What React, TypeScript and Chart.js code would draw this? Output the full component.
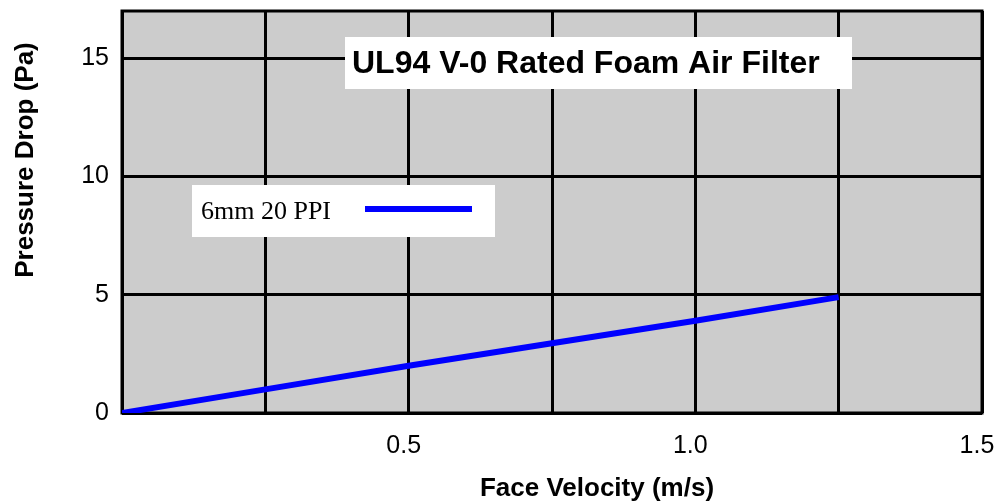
import React, { useEffect, useRef } from "react";
import { Chart, registerables } from "chart.js";

Chart.register(...registerables);

const chartTitle = "UL94 V-0 Rated Foam Air Filter";
const seriesLabel = "6mm 20 PPI";
const xAxisTitle = "Face Velocity (m/s)";
const yAxisTitle = "Pressure Drop (Pa)";
const faceVelocity = [0, 0.25, 0.5, 0.75, 1.0, 1.25];
const pressureDrop = [0, 1.0, 2.0, 2.95, 3.9, 4.9];
const xLabelValues = [0.5, 1.0, 1.5];
const yLabelValues = [0, 5, 10, 15];

const SANS = "'Liberation Sans', Arial, sans-serif";
const SERIF = "'Liberation Serif', 'Times New Roman', serif";

const decorPlugin = {
  id: "decor",
  beforeDraw(chart: any) {
    const { ctx, chartArea: a } = chart;
    ctx.save();
    ctx.fillStyle = "#ffffff";
    ctx.fillRect(0, 0, chart.width, chart.height);
    ctx.fillStyle = "#cccccc";
    ctx.fillRect(a.left, a.top, a.right - a.left, a.bottom - a.top);
    ctx.restore();
  },
  beforeDatasetsDraw(chart: any) {
    const { ctx, chartArea: a } = chart;
    ctx.save();
    ctx.strokeStyle = "#000000";
    ctx.lineWidth = 3;
    ctx.strokeRect(a.left, a.top, a.right - a.left, a.bottom - a.top);
    ctx.restore();
  },
  afterDatasetsDraw(chart: any) {
    const { ctx } = chart;
    const ds = chart.data.datasets[0];
    ctx.save();
    // title box
    ctx.fillStyle = "#ffffff";
    ctx.fillRect(345, 37, 507, 52);
    ctx.fillStyle = "#000000";
    ctx.font = `bold 32px ${SANS}`;
    ctx.textAlign = "left";
    ctx.textBaseline = "middle";
    ctx.fillText(chartTitle, 352, 64);
    // legend box
    ctx.fillStyle = "#ffffff";
    ctx.fillRect(192, 185, 303, 52);
    ctx.fillStyle = "#000000";
    ctx.font = `26px ${SERIF}`;
    ctx.fillText(seriesLabel, 201, 212);
    ctx.strokeStyle = ds.borderColor;
    ctx.lineWidth = ds.borderWidth;
    ctx.beginPath();
    ctx.moveTo(365, 209);
    ctx.lineTo(472, 209);
    ctx.stroke();
    // axis titles
    ctx.font = `bold 26px ${SANS}`;
    ctx.textAlign = "center";
    ctx.fillText(xAxisTitle, 597, 489);
    ctx.translate(26, 160);
    ctx.rotate(-Math.PI / 2);
    ctx.fillText(yAxisTitle, 0, 0);
    ctx.restore();
  },
};

export default function App() {
  const ref = useRef<HTMLCanvasElement>(null);
  useEffect(() => {
    document.body.style.margin = "0";
    const chart = new Chart(ref.current!, {
      type: "line",
      data: {
        datasets: [
          {
            label: seriesLabel,
            data: faceVelocity.map((x, i) => ({ x, y: pressureDrop[i] })),
            borderColor: "#0000ff",
            borderWidth: 6,
            pointRadius: 0,
            tension: 0,
            fill: false,
          },
        ],
      },
      options: {
        animation: false,
        responsive: false,
        layout: { padding: { top: 11, right: 23, left: 0, bottom: 0 } },
        plugins: { legend: { display: false }, tooltip: { enabled: false }, title: { display: false } },
        scales: {
          x: {
            type: "linear",
            min: 0,
            max: 1.5,
            afterFit: (s: any) => {
              s.height = 91;
              s.paddingLeft = 0;
              s.paddingRight = 0;
            },
            grid: { color: "#000000", lineWidth: 3, drawTicks: false },
            border: { display: false },
            ticks: {
              stepSize: 0.25,
              autoSkip: false,
              maxRotation: 0,
              padding: 18,
              labelOffset: -5,
              color: "#000000",
              font: { family: SANS, size: 25 },
              callback: (v: any) => {
                const n = Number(v);
                return xLabelValues.some((t) => Math.abs(t - n) < 1e-9) ? n.toFixed(1) : "";
              },
            },
          },
          y: {
            type: "linear",
            min: 0,
            max: 17,
            afterFit: (s: any) => {
              s.width = 122;
              s.paddingTop = 0;
              s.paddingBottom = 0;
            },
            grid: { color: "#000000", lineWidth: 3, drawTicks: false },
            border: { display: false },
            ticks: {
              stepSize: 5,
              includeBounds: false,
              autoSkip: false,
              padding: 13,
              color: "#000000",
              font: { family: SANS, size: 25 },
              callback: (v: any) => {
                const n = Number(v);
                return yLabelValues.includes(n) ? String(n) : "";
              },
            },
          },
        },
      },
      plugins: [decorPlugin],
    } as any);
    return () => chart.destroy();
  }, []);
  return (
    <canvas ref={ref} width={1005} height={504} style={{ display: "block", width: 1005, height: 504 }} />
  );
}
